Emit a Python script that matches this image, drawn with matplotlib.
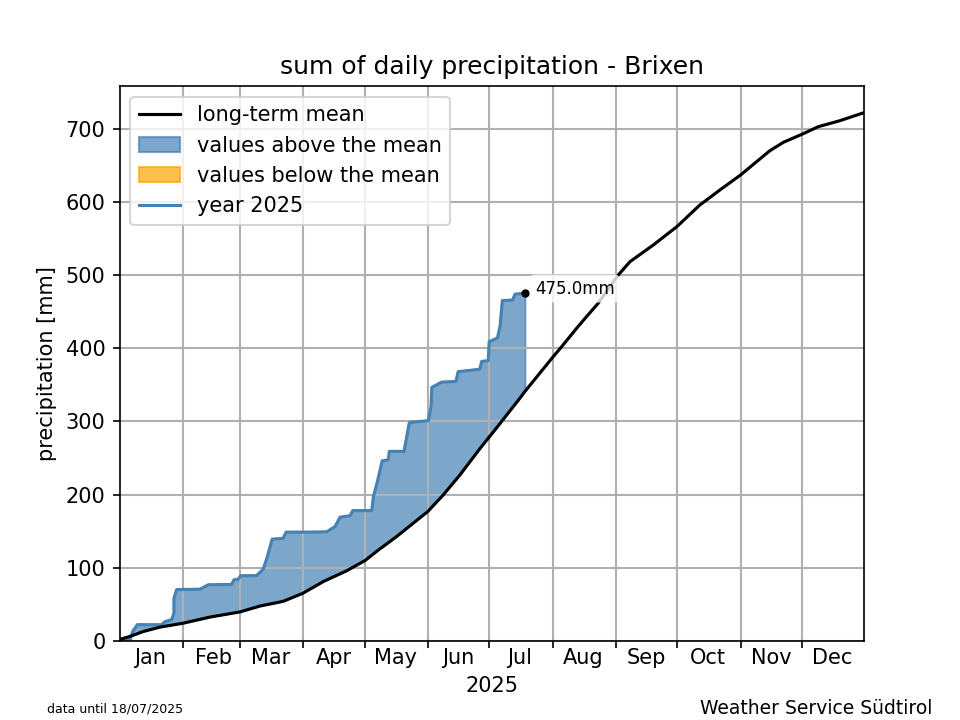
import datetime
import matplotlib
matplotlib.use("Agg")
import matplotlib.pyplot as plt
import matplotlib.dates as mdates
import numpy as np

# days since 1 Jan 2025, values in mm
mean_days = [0.3, 5.2, 11.7, 19.9, 31.1, 44.3, 59, 68.8, 80.2, 89.8, 99.8, 111.2, 120.2, 126.7,
             135.7, 143.8, 150.9, 158.5, 166.7, 176.5, 185.4, 196, 198.7, 212.3, 216.4, 223.8,
             228.7, 234.3, 244.1, 249.9, 261.3, 272.8, 284.1, 293.9, 304, 311.8, 318.3, 324.9,
             334, 342, 352.6, 364.3]
mean_vals = [2, 6, 12.7, 18.7, 24, 32.4, 39.5, 47.5, 54, 65, 81, 95.7, 109.7, 124,
             142.6, 160.8, 176.7, 199.5, 226.9, 263, 294, 331.7, 341.7, 388.5, 402, 427.4,
             443.5, 461.5, 500, 518.4, 541.2, 566.2, 595.9, 616.4, 636.9, 655, 670, 681.5,
             692.5, 702.9, 711.1, 722]

year_days = [0.3, 5.2, 6.5, 8.8, 20.6, 22.2, 25.6, 26.7, 26.7, 28, 39.5, 43.5, 54.9, 56.1, 58.1, 59.3,
             67.1, 70.4, 72.4, 74.8, 80.1, 81.6, 93, 101.4, 105.5, 108, 112.9, 114.2, 123.5, 124.3,
             126.3, 128.6, 131.6, 132.1, 139.3, 141.9, 151.2, 152.5, 152.9, 157.7, 164.7, 165.8, 174,
             176.4, 177.3, 180.5, 181, 185, 186.3, 187.4, 192.5, 193.6, 198.7]
year_vals = [0, 1, 12.8, 22, 22, 26, 29, 38, 58, 70, 70.6, 76.6, 77, 83.4, 84, 89,
             89, 98, 115, 139, 140, 148.6, 148.6, 149, 156, 169, 171, 178, 178, 197,
             218, 246, 247.5, 259, 259, 298.5, 301, 320, 346.4, 353.7, 354.6, 368, 370.5,
             371.5, 382, 383, 409, 414, 430, 465, 466, 474, 475]

start = mdates.date2num(datetime.datetime(2025, 1, 1))
mean_x = start + np.array(mean_days)
mean_y = np.array(mean_vals)
year_x = start + np.array(year_days)
year_y = np.array(year_vals)

fig, ax = plt.subplots(figsize=(6.4, 4.8), dpi=150)

ax.plot(mean_x, mean_y, color="black", linewidth=1.5, label="long-term mean", zorder=3)

# area between this year and the mean up to the last day of data
n = mean_days.index(198.7) + 1
ax.fill(np.r_[year_x, mean_x[:n][::-1]], np.r_[year_y, mean_y[:n][::-1]],
        color="steelblue", alpha=0.7, label="values above the mean")
ax.fill([], [], color="orange", alpha=0.7, label="values below the mean")
ax.plot(year_x, year_y, color="steelblue", linewidth=1.5, label="year 2025", zorder=2.5)
ax.plot(year_x[-1], year_y[-1], "o", color="black", markersize=3, zorder=4)

ax.annotate(f"{year_vals[-1]:.1f}mm", (year_x[-1], year_y[-1]), xytext=(4.5, -2),
            textcoords="offset points", fontsize=8, va="bottom", zorder=5,
            bbox=dict(boxstyle="round", facecolor="white", edgecolor="none", alpha=0.8))

ax.set_xlim(start + 0.3, start + 364.4)
ax.set_ylim(0, 758)
ax.xaxis.set_major_locator(mdates.MonthLocator())
ax.xaxis.set_major_formatter(plt.NullFormatter())
ax.xaxis.set_minor_locator(mdates.MonthLocator(bymonthday=16))
ax.xaxis.set_minor_formatter(mdates.DateFormatter("%b"))
ax.tick_params(axis="x", which="minor", length=0)
ax.grid(True, linewidth=1)

ax.set_title("sum of daily precipitation - Brixen")
ax.set_xlabel("2025")
ax.set_ylabel("precipitation [mm]")
ax.legend(loc="upper left")

fig.text(0.049, 0.0105, "data until 18/07/2025", fontsize=6)
fig.text(0.729, 0.008, "Weather Service Südtirol", fontsize=9)

fig.savefig("out.png", dpi=150)
